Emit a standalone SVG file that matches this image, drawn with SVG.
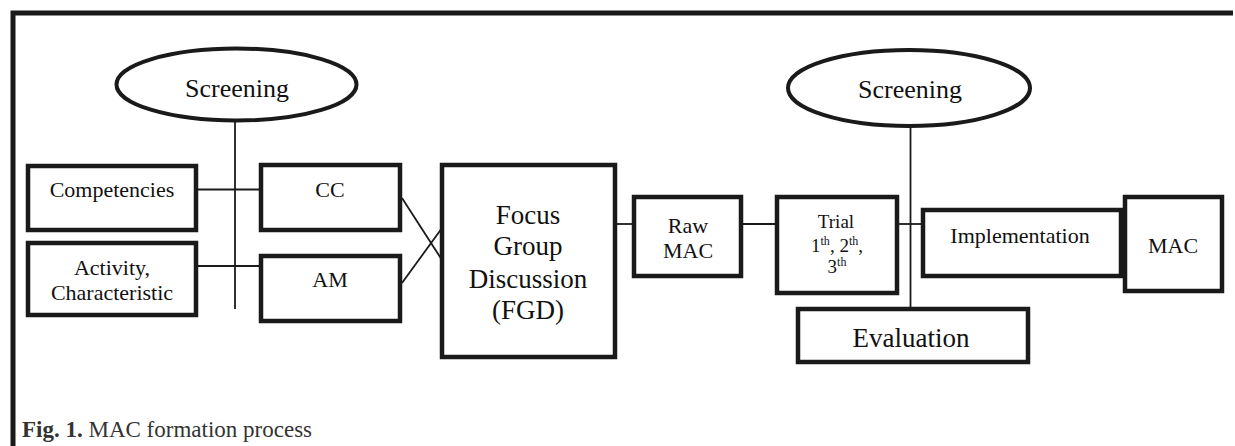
<svg xmlns="http://www.w3.org/2000/svg" width="1235" height="446" viewBox="0 0 1235 446">
<style>
.box{fill:#fff;stroke:#1a1a1a;stroke-width:4.5}
.ell{fill:#fff;stroke:#1a1a1a;stroke-width:4}
.ln{stroke:#1a1a1a;stroke-width:1.8;fill:none}
.t{font-family:"Liberation Serif","DejaVu Serif",serif;fill:#111;text-anchor:middle}
.cap{font-family:"Liberation Serif","DejaVu Serif",serif;fill:#333}
.sup{font-size:12px}
</style>
<rect width="1235" height="446" fill="#fff"/>
<g id="frame">
<path d="M13,446 V13 H1233" fill="none" stroke="#1a1a1a" stroke-width="5"/>
</g>
<g id="connectors">
<line class="ln" x1="235" y1="122" x2="235" y2="309"/>
<line class="ln" x1="198" y1="189.5" x2="261" y2="189.5"/>
<line class="ln" x1="198" y1="266" x2="261" y2="266"/>
<line class="ln" x1="402" y1="198" x2="442" y2="260"/>
<line class="ln" x1="402" y1="283" x2="442" y2="228"/>
<line class="ln" x1="617" y1="224" x2="634" y2="224"/>
<line class="ln" x1="743" y1="224" x2="777" y2="224"/>
<line class="ln" x1="899" y1="224" x2="923" y2="224"/>
<line class="ln" x1="910.5" y1="127" x2="910.5" y2="309"/>
</g>
<g id="screening1">
<ellipse class="ell" cx="236.5" cy="84.5" rx="120" ry="36"/>
<text class="t" x="237" y="97" font-size="26">Screening</text>
</g>
<g id="competencies">
<rect class="box" x="28" y="166" width="168" height="64"/>
<text class="t" x="112" y="197" font-size="22">Competencies</text>
</g>
<g id="activity">
<rect class="box" x="28" y="243" width="168" height="72"/>
<text class="t" x="112" y="275" font-size="22">Activity,</text>
<text class="t" x="112" y="300" font-size="22">Characteristic</text>
</g>
<g id="cc">
<rect class="box" x="261" y="165" width="139" height="65"/>
<text class="t" x="330" y="197" font-size="22">CC</text>
</g>
<g id="am">
<rect class="box" x="261" y="256" width="139" height="65"/>
<text class="t" x="330" y="287" font-size="22">AM</text>
</g>
<g id="fgd">
<rect class="box" x="442" y="165" width="173" height="192"/>
<text class="t" x="528" y="224" font-size="27">Focus</text>
<text class="t" x="528" y="255" font-size="27">Group</text>
<text class="t" x="528" y="288" font-size="27">Discussion</text>
<text class="t" x="528" y="319" font-size="27">(FGD)</text>
</g>
<g id="rawmac">
<rect class="box" x="634" y="197" width="107" height="79"/>
<text class="t" x="688" y="233" font-size="22">Raw</text>
<text class="t" x="688" y="258" font-size="22">MAC</text>
</g>
<g id="trial">
<rect class="box" x="777" y="197" width="120" height="96"/>
<text class="t" x="836" y="228" font-size="19">Trial</text>
<text class="t" x="837" y="252" font-size="19">1<tspan class="sup" dy="-7">th</tspan><tspan dy="7">, 2</tspan><tspan class="sup" dy="-7">th</tspan><tspan dy="7">,</tspan></text>
<text class="t" x="837" y="273" font-size="19">3<tspan class="sup" dy="-7">th</tspan></text>
</g>
<g id="screening2">
<ellipse class="ell" cx="909" cy="88" rx="121" ry="38"/>
<text class="t" x="910" y="98" font-size="26">Screening</text>
</g>
<g id="implementation">
<rect class="box" x="923" y="210" width="198" height="66"/>
<text class="t" x="1020" y="243" font-size="22">Implementation</text>
</g>
<g id="mac">
<rect class="box" x="1125" y="197" width="97" height="94"/>
<text class="t" x="1173" y="253" font-size="22">MAC</text>
</g>
<g id="evaluation">
<rect class="box" x="798" y="309" width="230" height="53"/>
<text class="t" x="911" y="347" font-size="27">Evaluation</text>
</g>
<g id="caption">
<text class="cap" x="22" y="437" font-size="23"><tspan font-weight="bold">Fig. 1.</tspan> MAC formation process</text>
</g>
</svg>
